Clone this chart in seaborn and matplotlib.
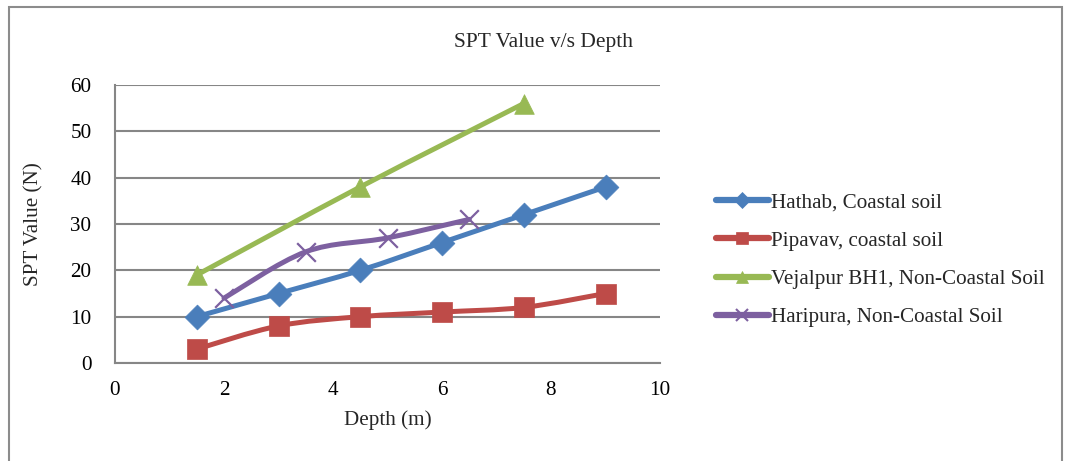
import numpy as np
import pandas as pd
import matplotlib
matplotlib.use("Agg")
import matplotlib.pyplot as plt
from matplotlib.path import Path
from matplotlib.patches import PathPatch, Rectangle
from matplotlib.lines import Line2D
import seaborn as sns

# ---- data ----
series_names = ["Hathab, Coastal soil", "Pipavav, coastal soil",
                "Vejalpur BH1, Non-Coastal Soil", "Haripura, Non-Coastal Soil"]
hathab_depth = [1.5, 3, 4.5, 6, 7.5, 9]
hathab_spt = [10, 15, 20, 26, 32, 38]
pipavav_depth = [1.5, 3, 4.5, 6, 7.5, 9]
pipavav_spt = [3, 8, 10, 11, 12, 15]
vejalpur_depth = [1.5, 4.5, 7.5]
vejalpur_spt = [19, 38, 56]
haripura_depth = [2, 3.5, 5, 6.5]
haripura_spt = [14, 24, 27, 31]
x_ticks = [0, 2, 4, 6, 8, 10]
y_ticks = [0, 10, 20, 30, 40, 50, 60]

colors = ["#4A7EBB", "#BE4B48", "#98B954", "#7D60A0"]
markers = ["D", "s", "^", "x"]
msizes = [160, 210, 200, 180]

sns.set_theme(style="white")
plt.rcParams['font.family'] = ['Liberation Serif', 'DejaVu Serif']
FS = 15.2

fig = plt.figure(figsize=(10.65, 4.61), dpi=100)
ax = fig.add_axes([115/1065, 1-363/461, (660-115)/1065, (363-85)/461])

# outer border
fig.patches.append(Rectangle((9/1065, -0.01), (1062-9)/1065, 1 - 7/461 + 0.01,
                             transform=fig.transFigure, fill=False,
                             edgecolor="#8C8C8C", linewidth=1.5, zorder=0))

all_x = [hathab_depth, pipavav_depth, vejalpur_depth, haripura_depth]
all_y = [hathab_spt, pipavav_spt, vejalpur_spt, haripura_spt]

frames = []
for name, xs, ys in zip(series_names, all_x, all_y):
    frames.append(pd.DataFrame({"Depth": xs, "SPT": ys, "Site": name}))
df = pd.concat(frames, ignore_index=True)


def smooth_path(xs, ys, t=1/6):
    pts = np.column_stack([xs, ys]).astype(float)
    n = len(pts)
    verts = [pts[0]]
    codes = [Path.MOVETO]
    for i in range(n - 1):
        p0 = pts[i - 1] if i > 0 else pts[i]
        p1 = pts[i]
        p2 = pts[i + 1]
        p3 = pts[i + 2] if i + 2 < n else pts[i + 1]
        c1 = p1 + (p2 - p0) * t
        c2 = p2 - (p3 - p1) * t
        verts += [c1, c2, p2]
        codes += [Path.CURVE4] * 3
    return Path(verts, codes)


for xs, ys, c in zip(all_x, all_y, colors):
    ax.add_patch(PathPatch(smooth_path(xs, ys), facecolor="none", edgecolor=c,
                           linewidth=3.6, capstyle="round", joinstyle="round", zorder=3))

for name, m, s, c in zip(series_names, markers, msizes, colors):
    sub = df[df["Site"] == name]
    if m == "x":
        sns.scatterplot(data=sub, x="Depth", y="SPT", marker=m, s=s, color=c,
                        linewidth=1.6, ax=ax, zorder=4, legend=False)
    else:
        sns.scatterplot(data=sub, x="Depth", y="SPT", marker=m, s=s, color=c,
                        edgecolor=c, linewidth=0.5, ax=ax, zorder=4, legend=False)

ax.set_xlim(0, 10)
ax.set_ylim(0, 60)
ax.set_xticks(x_ticks)
ax.set_yticks(y_ticks)
ax.set_xticklabels([str(v) for v in x_ticks])
ax.set_yticklabels([str(v) for v in y_ticks])
ax.tick_params(axis="both", length=0, labelsize=FS, colors="black")
ax.tick_params(axis="x", pad=13)
ax.tick_params(axis="y", pad=17)
ax.grid(axis="y", color="#868686", linewidth=1.5)
ax.grid(axis="x", visible=False)
for sp in ["top", "right"]:
    ax.spines[sp].set_visible(False)
for sp in ["left", "bottom"]:
    ax.spines[sp].set_color("#868686")
    ax.spines[sp].set_linewidth(1.5)
ax.set_axisbelow(True)

ax.set_xlabel("Depth (m)", fontsize=FS, labelpad=7)
ax.set_ylabel("SPT Value (N)", fontsize=FS, labelpad=19)
fig.text(543/1065, 1-42/461, "SPT Value v/s Depth", ha="center", va="center", fontsize=15.5)

handles = [Line2D([0], [0], color=c, marker=m, linewidth=4.5,
                  markersize=8, markeredgewidth=1.5 if m == "x" else 0.5,
                  markeredgecolor=c)
           for c, m in zip(colors, markers)]
fig.legend(handles, series_names, loc="center left",
           bbox_to_anchor=(697/1065, 1-260/461), frameon=False, fontsize=FS,
           handlelength=2.5, handletextpad=0.1, labelspacing=0.87)

fig.savefig("out.png", dpi=100)
